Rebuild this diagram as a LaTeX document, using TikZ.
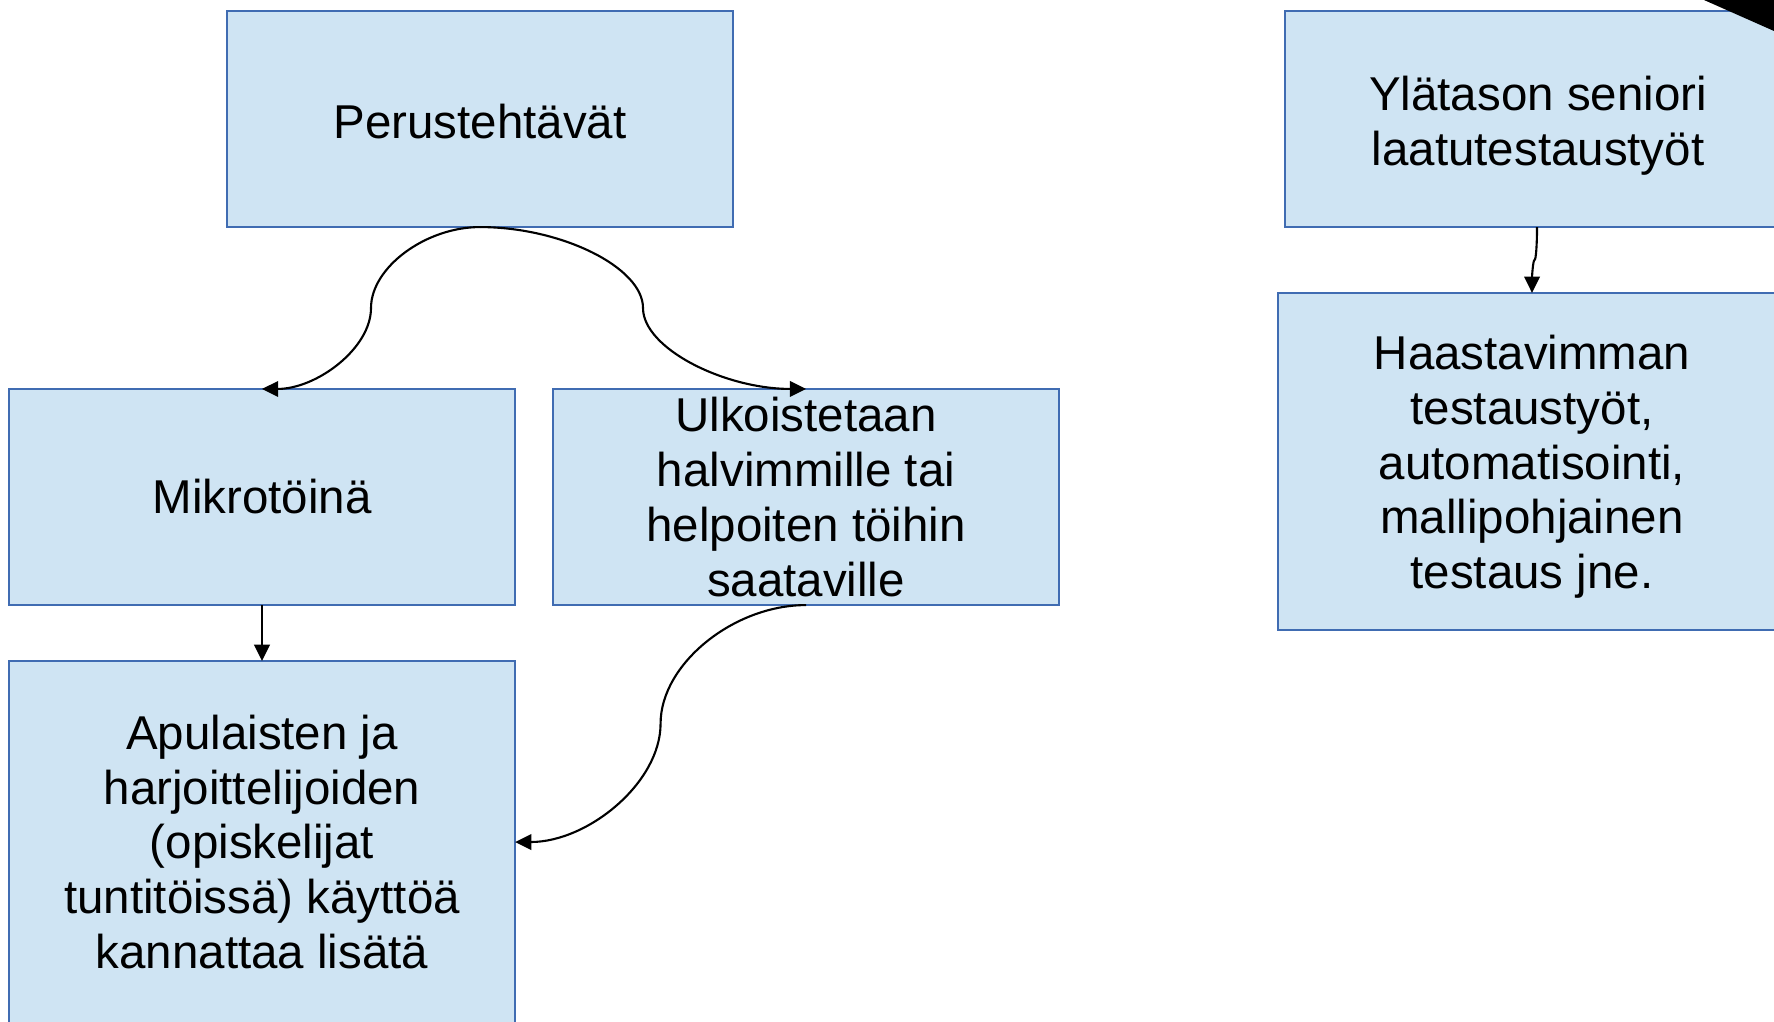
\documentclass[tikz,border=0pt]{standalone}
\usepackage{fontspec}
\setmainfont{Liberation Sans}
\usetikzlibrary{arrows.meta,calc}
\definecolor{boxfill}{RGB}{207,228,243}
\definecolor{boxline}{RGB}{64,108,178}
\begin{document}
\begin{tikzpicture}[x=0.01cm,y=-0.01cm,
  txt/.style={inner sep=0pt, outer sep=0pt, align=center,
    font=\fontsize{13.5}{15.6}\selectfont},
  box/.style={txt, draw=boxline, fill=boxfill, line width=0.75pt,
    minimum width=5.06cm},
  conn/.style={draw=black, line width=0.6pt,
    -{Triangle[length=4.6pt,width=4.4pt]}}]
\useasboundingbox (0,0) rectangle (1774,1021);
\clip (0,0) rectangle (1774,1021);
\fill[white] (0,0) rectangle (1774,1021);

% boxes on the left
\node[box, minimum height=2.16cm] (perus) at (480,119) {};
\node[txt] (perustext) at ([yshift=-0.6pt]perus.center) {Perustehtävät};
\node[box, minimum height=2.16cm] (mikro) at (262,497) {Mikrotöinä};
\node[box, minimum height=2.16cm] (ulko) at (806,497)
  {Ulkoistetaan\\halvimmille tai\\helpoiten töihin\\saataville};
\node[box, minimum height=3.62cm] (apu) at (262,842)
  {Apulaisten ja\\harjoittelijoiden\\(opiskelijat\\tuntitöissä) käyttöä\\kannattaa lisätä};

% boxes on the right, their text set a little lower
\node[box, minimum height=2.16cm] (yla) at (1538,119) {};
\node[txt] (ylatext) at ([yshift=-1.9pt]yla.center)
  {Ylätason seniori\\laatutestaustyöt};
\node[box, minimum height=3.37cm, minimum width=5.08cm] (haast) at (1532,461.5) {};
\node[txt] (haasttext) at ([yshift=-1.5pt]haast.center)
  {Haastavimman\\testaustyöt,\\automatisointi,\\mallipohjainen\\testaus jne.};

% curved connectors (horizontal ends, vertical middle)
\coordinate (m1) at ($(perus.south)!0.5!(mikro.north)$);
\draw[conn] (perus.south) .. controls +(-54.5,0) and +(0,-40.5) .. (m1)
  .. controls +(0,40.5) and +(54.5,0) .. (mikro.north);

\coordinate (m2) at ($(perus.south)!0.5!(ulko.north)$);
\draw[conn] (perus.south) .. controls +(81.5,0) and +(0,-40.5) .. (m2)
  .. controls +(0,40.5) and +(-81.5,0) .. (ulko.north);

\coordinate (m3) at ($(ulko.south)!0.5!(apu.east)$);
\draw[conn] (ulko.south) .. controls +(-72.75,0) and +(0,-59.25) .. (m3)
  .. controls +(0,59.25) and +(72.75,0) .. (apu.east);

% straight connector
\draw[conn] (mikro.south) -- (apu.north);

% short connector on the right (vertical ends)
\coordinate (ys) at ($(yla.south)+(-1,0)$);
\coordinate (m4) at ($(ys)!0.5!(haast.north)$);
\draw[conn] (ys) .. controls +(0,16.5) and +(1.5,0) .. (m4)
  .. controls +(-1.5,0) and +(0,-16.5) .. (haast.north);

% dark corner
\fill[black] (1704,0) -- (1774,0) -- (1774,31) -- cycle;
\end{tikzpicture}
\end{document}
